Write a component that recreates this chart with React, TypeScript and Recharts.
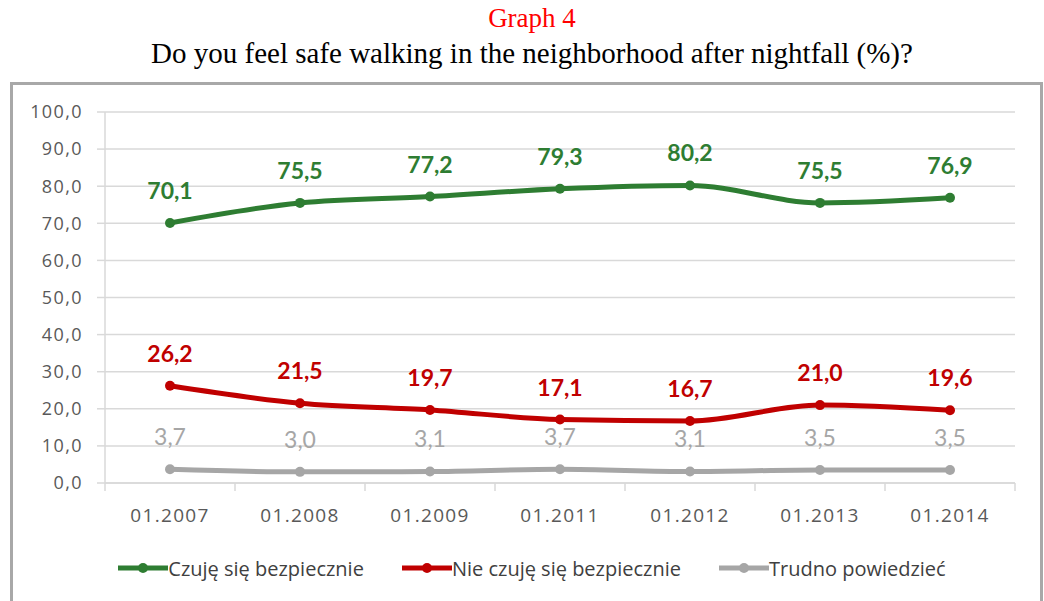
import { LineChart, Line, XAxis, YAxis, CartesianGrid, Legend, LabelList } from 'recharts';

const categories = ['01.2007', '01.2008', '01.2009', '01.2011', '01.2012', '01.2013', '01.2014'];
const safe = [70.1, 75.5, 77.2, 79.3, 80.2, 75.5, 76.9];
const unsafe = [26.2, 21.5, 19.7, 17.1, 16.7, 21.0, 19.6];
const hard = [3.7, 3.0, 3.1, 3.7, 3.1, 3.5, 3.5];
const yTicks = [0, 10, 20, 30, 40, 50, 60, 70, 80, 90, 100];

const seriesNames = ['Czuję się bezpiecznie', 'Nie czuję się bezpiecznie', 'Trudno powiedzieć'];

const GREEN = '#2E7D32';
const RED = '#C00000';
const GRAY = '#A6A6A6';
const GRID = '#D9D9D9';

const W = 1044;
const H = 515;
const M = { top: 26, right: 29, bottom: 3, left: 0 };
const Y_W = 105;
const HALF = (W - M.right - M.left - Y_W) / categories.length / 2;

const data = categories.map((c, i) => ({ cat: c, safe: safe[i], unsafe: unsafe[i], hard: hard[i] }));

const fmt = (v: number) => v.toFixed(1).replace('.', ',');
const font = '"Open Sans", sans-serif';

function XTick(props: any) {
  const { x, y, payload, index, visibleTicksCount } = props;
  return (
    <g>
      <line x1={x - HALF} y1={y} x2={x - HALF} y2={y + 8} stroke={GRID} strokeWidth={1.5} />
      {index === visibleTicksCount - 1 && (
        <line x1={x + HALF} y1={y} x2={x + HALF} y2={y + 8} stroke={GRID} strokeWidth={1.5} />
      )}
      <text x={x} y={y + 39} textAnchor="middle" fontFamily={font} fontSize={19} fill="#595959" letterSpacing={1.3}>
        {payload.value}
      </text>
    </g>
  );
}

function LegendIcon({ color }: { color: string }) {
  return (
    <svg width={50} height={12} style={{ display: 'block' }}>
      <line x1={0} y1={6} x2={50} y2={6} stroke={color} strokeWidth={5} />
      <circle cx={25} cy={6} r={5} fill={color} />
    </svg>
  );
}

function LegendBox() {
  const colors = [GREEN, RED, GRAY];
  return (
    <div style={{ width: W, height: 60, paddingLeft: 20, boxSizing: 'border-box', display: 'flex', justifyContent: 'center', alignItems: 'center', gap: 38 }}>
      {seriesNames.map((n, i) => (
        <div key={n} style={{ display: 'flex', alignItems: 'center' }}>
          <LegendIcon color={colors[i]} />
          <span style={{ fontFamily: font, fontSize: 20, color: '#404040' }}>{n}</span>
        </div>
      ))}
    </div>
  );
}

export default function App() {
  return (
    <div style={{ position: 'absolute', left: 0, top: 0, width: W, height: 601, overflow: 'hidden', background: '#fff' }}>
      <div style={{ position: 'absolute', left: 10, width: W, top: 3, textAlign: 'center', fontFamily: '"Liberation Serif", serif', fontSize: 27, color: '#FF0000' }}>
        Graph 4
      </div>
      <div style={{ position: 'absolute', left: 10, width: W, top: 37, textAlign: 'center', fontFamily: '"Liberation Serif", serif', fontSize: 29, color: '#000' }}>
        Do you feel safe walking in the neighborhood after nightfall (%)?
      </div>
      <div style={{ position: 'absolute', left: 10, top: 82, width: 1033, height: 560, border: '3px solid #A8A8A8', boxSizing: 'border-box' }} />
      <div style={{ position: 'absolute', left: 0, top: 86 }}>
        <LineChart width={W} height={H} data={data} margin={M}>
          <CartesianGrid vertical={false} stroke={GRID} strokeWidth={1.5} />
          <XAxis
            dataKey="cat"
            padding={{ left: HALF, right: HALF }}
            axisLine={{ stroke: GRID, strokeWidth: 1.5 }}
            tickLine={false}
            tickSize={0}
            tickMargin={0}
            height={55}
            interval={0}
            tick={<XTick />}
          />
          <YAxis
            domain={[0, 100]}
            ticks={yTicks}
            width={Y_W}
            tickFormatter={fmt}
            axisLine={{ stroke: GRID, strokeWidth: 1.5 }}
            tickLine={{ stroke: GRID, strokeWidth: 1.5 }}
            tickSize={8}
            tickMargin={14}
            tick={{ fontFamily: font, fontSize: 18, fill: '#595959', letterSpacing: 1.4 }}
          />
          <Legend verticalAlign="bottom" height={60} content={<LegendBox />} />
          <Line type="monotone" dataKey="safe" name={seriesNames[0]} stroke={GREEN} strokeWidth={5} dot={{ r: 5, fill: GREEN, stroke: GREEN, strokeWidth: 0 }} activeDot={false} isAnimationActive={false}>
            <LabelList dataKey="safe" position="top" offset={24} formatter={(v: any) => fmt(Number(v))} style={{ fontFamily: 'Lato, sans-serif', fontWeight: 700, fontSize: 23, fill: GREEN }} />
          </Line>
          <Line type="monotone" dataKey="unsafe" name={seriesNames[1]} stroke={RED} strokeWidth={5} dot={{ r: 5, fill: RED, stroke: RED, strokeWidth: 0 }} activeDot={false} isAnimationActive={false}>
            <LabelList dataKey="unsafe" position="top" offset={24} formatter={(v: any) => fmt(Number(v))} style={{ fontFamily: 'Lato, sans-serif', fontWeight: 700, fontSize: 23, fill: RED }} />
          </Line>
          <Line type="monotone" dataKey="hard" name={seriesNames[2]} stroke={GRAY} strokeWidth={5} dot={{ r: 5, fill: GRAY, stroke: GRAY, strokeWidth: 0 }} activeDot={false} isAnimationActive={false}>
            <LabelList dataKey="hard" position="top" offset={24} formatter={(v: any) => fmt(Number(v))} style={{ fontFamily: 'Lato, sans-serif', fontWeight: 400, fontSize: 23, fill: GRAY }} />
          </Line>
        </LineChart>
      </div>
    </div>
  );
}
